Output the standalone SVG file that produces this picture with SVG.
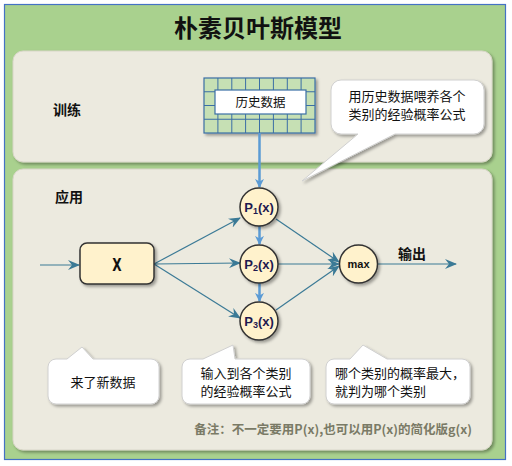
<svg xmlns="http://www.w3.org/2000/svg" width="512" height="466" viewBox="0 0 512 466">
<defs>
<filter id="sh" x="-20%" y="-20%" width="150%" height="150%">
<feDropShadow dx="2" dy="2" stdDeviation="1.5" flood-color="#000" flood-opacity="0.35"/>
</filter>
<marker id="ah" viewBox="0 0 12 10" refX="11" refY="5" markerWidth="12" markerHeight="10" markerUnits="userSpaceOnUse" orient="auto">
<path d="M0,0 L12,5 L0,10 L4,5 Z" fill="#3b7a96"/>
</marker>
<marker id="bh" viewBox="0 0 10 10" refX="9" refY="5" markerWidth="9" markerHeight="9" markerUnits="userSpaceOnUse" orient="auto">
<path d="M0,0 L10,5 L0,10 L3,5 Z" fill="#5b9bd5"/>
</marker>
<style>
.panel{fill:#eceadf;stroke:#d8d6c8;stroke-width:1;filter:url(#sh)}
.call{fill:#ffffff;stroke:#d0d0d0;stroke-width:1;filter:url(#sh)}
.node{fill:#fff2cc;stroke:#333333;stroke-width:1.5;filter:url(#sh)}
.cn{font-family:"Noto Sans CJK SC","Noto Sans",sans-serif;}
.t13{font-size:13px;fill:#111}
.lbl{font-size:14px;font-weight:bold;fill:#111}
.p{font-family:"Liberation Sans","Noto Sans",sans-serif;font-weight:bold;font-size:13px;fill:#1f1a4f}
.conn{stroke:#3b7a96;stroke-width:1.2;fill:none;marker-end:url(#ah)}
.blue{stroke:#5b9bd5;stroke-width:2.5;fill:none;marker-end:url(#bh)}
.grid{fill:none;stroke:#3a6ea5;stroke-width:1}
</style>
</defs>

<g id="frame">
<rect x="4.5" y="4.5" width="501" height="455" fill="#a9d18e" stroke="#4472c4" stroke-width="1.2"/>
<text x="258" y="37" text-anchor="middle" class="cn" font-size="24" font-weight="bold" fill="#111">朴素贝叶斯模型</text>
</g>

<g id="train-panel">
<rect class="panel" x="13" y="51" width="479" height="111" rx="10"/>
<text x="53" y="115" class="cn lbl">训练</text>
</g>

<g id="apply-panel">
<rect class="panel" x="13" y="169" width="479" height="281" rx="10"/>
<text x="55" y="202" class="cn lbl">应用</text>
</g>

<g id="history-data">
<rect x="204" y="78" width="111" height="55" fill="#c6e0b4" stroke="#3a6ea5" stroke-width="1.2" filter="url(#sh)"/>
<path class="grid" d="M217.9,78V133M231.8,78V133M245.6,78V133M259.5,78V133M273.4,78V133M287.3,78V133M301.1,78V133M204,91.75H315M204,105.5H315M204,119.25H315"/>
<rect x="215" y="90" width="91" height="24" fill="#ffffff" stroke="#3a6ea5" stroke-width="1.2"/>
<text x="260.5" y="107" text-anchor="middle" class="cn" font-size="12.5" fill="#111">历史数据</text>
</g>

<g id="callout-train">
<path class="call" d="M341,80 H474 A10,10 0 0 1 484,90 V124 A10,10 0 0 1 474,134 H395 L302,181 L358,134 H341 A10,10 0 0 1 331,124 V90 A10,10 0 0 1 341,80 Z"/>
<text x="407" y="101" text-anchor="middle" class="cn t13">用历史数据喂养各个</text>
<text x="407" y="119" text-anchor="middle" class="cn t13">类别的经验概率公式</text>
</g>

<g id="connectors">
<line class="blue" x1="259.5" y1="133" x2="259.5" y2="187"/>
<line class="blue" x1="259.5" y1="226" x2="259.5" y2="244"/>
<line class="blue" x1="259.5" y1="283" x2="259.5" y2="301"/>
<line class="conn" x1="40" y1="265" x2="79" y2="265"/>
<line class="conn" x1="154" y1="264" x2="240" y2="218"/>
<line class="conn" x1="154" y1="264" x2="240" y2="263"/>
<line class="conn" x1="154" y1="264" x2="240" y2="318"/>
<line class="conn" x1="276" y1="219" x2="339" y2="262"/>
<line class="conn" x1="278" y1="264" x2="339" y2="264"/>
<line class="conn" x1="276" y1="310" x2="339" y2="266"/>
<line class="conn" x1="378" y1="264" x2="456" y2="264"/>
<text x="398" y="259" class="cn lbl">输出</text>
</g>

<g id="node-x">
<rect class="node" x="80" y="243" width="74" height="41" rx="7"/>
<text x="117" y="271" text-anchor="middle" font-family="'DejaVu Sans Condensed','DejaVu Sans',sans-serif" font-size="18" font-weight="bold" fill="#111" transform="translate(117 0) scale(0.75 1) translate(-117 0)">X</text>
</g>

<g id="node-p1">
<circle class="node" cx="259" cy="207" r="19"/>
<text x="259" y="211.5" text-anchor="middle" class="p">P<tspan font-size="9" dy="2">1</tspan><tspan dy="-2">(x)</tspan></text>
</g>
<g id="node-p2">
<circle class="node" cx="259" cy="264" r="19"/>
<text x="259" y="268.5" text-anchor="middle" class="p">P<tspan font-size="9" dy="2">2</tspan><tspan dy="-2">(x)</tspan></text>
</g>
<g id="node-p3">
<circle class="node" cx="259" cy="321" r="19"/>
<text x="259" y="325.5" text-anchor="middle" class="p">P<tspan font-size="9" dy="2">3</tspan><tspan dy="-2">(x)</tspan></text>
</g>
<g id="node-max">
<circle class="node" cx="358.5" cy="264" r="19"/>
<text x="358.5" y="268" text-anchor="middle" font-family="'Liberation Sans',sans-serif" font-size="11" font-weight="bold" fill="#111">max</text>
</g>

<g id="callout-new">
<path class="call" d="M56,359 H67 L82,347 L93,359 H151 A8,8 0 0 1 159,367 V396 A8,8 0 0 1 151,404 H56 A8,8 0 0 1 48,396 V367 A8,8 0 0 1 56,359 Z"/>
<text x="103" y="387" text-anchor="middle" class="cn t13">来了新数据</text>
</g>

<g id="callout-input">
<path class="call" d="M190,359 H203 L233,345 L235,359 H302 A8,8 0 0 1 310,367 V396 A8,8 0 0 1 302,404 H190 A8,8 0 0 1 182,396 V367 A8,8 0 0 1 190,359 Z"/>
<text x="246" y="378" text-anchor="middle" class="cn t13">输入到各个类别</text>
<text x="246" y="396" text-anchor="middle" class="cn t13">的经验概率公式</text>
</g>

<g id="callout-max">
<path class="call" d="M334,359 H350 L363,345 L387,359 H462 A8,8 0 0 1 470,367 V396 A8,8 0 0 1 462,404 H334 A8,8 0 0 1 326,396 V367 A8,8 0 0 1 334,359 Z"/>
<text x="335" y="378" class="cn t13">哪个类别的概率最大，</text>
<text x="335" y="396" class="cn t13">就判为哪个类别</text>
</g>

<g id="note">
<text x="472" y="434" text-anchor="end" class="cn" font-size="12.5" font-weight="bold" fill="#7a7a66">备注：不一定要用P(x),也可以用P(x)的简化版g(x)</text>
</g>
</svg>
